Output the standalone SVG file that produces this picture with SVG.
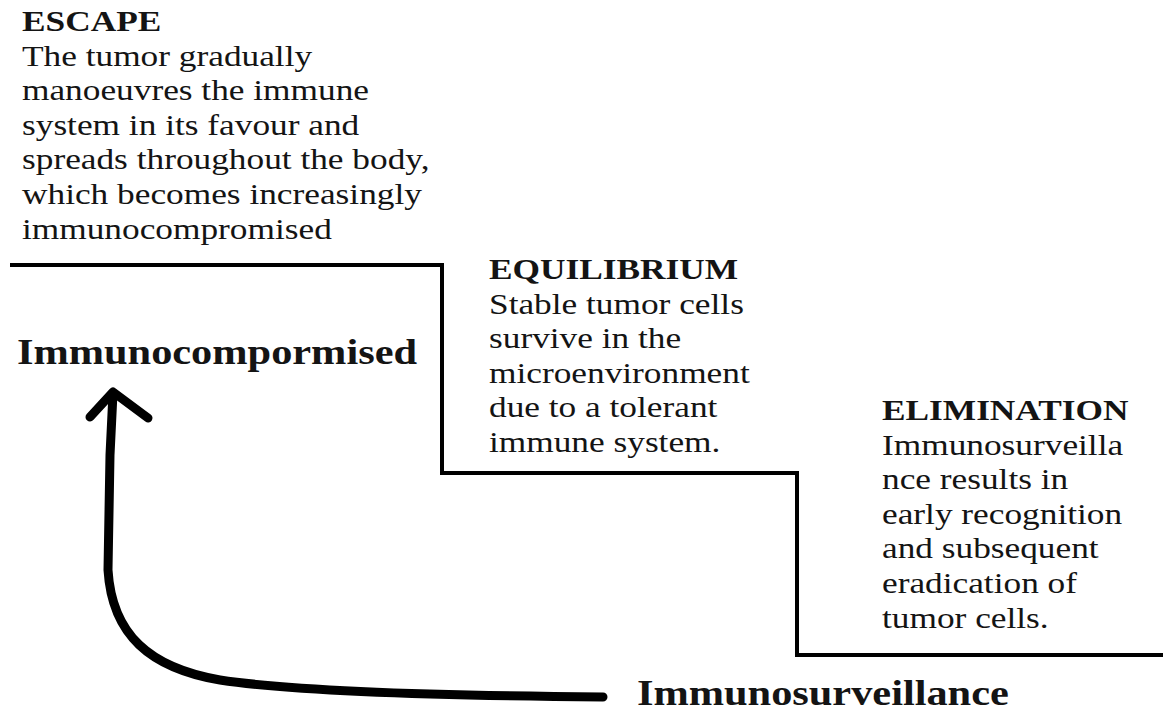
<svg xmlns="http://www.w3.org/2000/svg" width="1163" height="713" viewBox="0 0 1163 713">
<style>
  text { font-family: "Liberation Serif", "Times New Roman", serif; fill: #141414; }
  .b { font-size: 30px; }
  .h { font-size: 30px; font-weight: bold; }
  .lbl { font-size: 36px; font-weight: bold; }
  .step { fill: none; stroke: #000; stroke-width: 4; stroke-linejoin: miter; }
  .arrow { fill: none; stroke: #000; stroke-width: 9; stroke-linecap: round; stroke-linejoin: round; }
</style>
<rect width="1163" height="713" fill="#fff"/>
<g id="steps">
  <polyline class="step" points="10,265 442,265 442,473 797,473 797,655 1163,655"/>
</g>
<g id="escape" transform="translate(22 0) scale(1.177 1)">
  <text class="h" x="0" y="31">ESCAPE</text>
  <text class="b" x="0" y="65.6">The tumor gradually</text>
  <text class="b" x="0" y="100.2">manoeuvres the immune</text>
  <text class="b" x="0" y="134.8">system in its favour and</text>
  <text class="b" x="0" y="169.4">spreads throughout the body,</text>
  <text class="b" x="0" y="204">which becomes increasingly</text>
  <text class="b" x="0" y="238.6">immunocompromised</text>
</g>
<g id="equilibrium" transform="translate(489 0) scale(1.177 1)">
  <text class="h" x="0" y="279">EQUILIBRIUM</text>
  <text class="b" x="0" y="313.6">Stable tumor cells</text>
  <text class="b" x="0" y="348.2">survive in the</text>
  <text class="b" x="0" y="382.8">microenvironment</text>
  <text class="b" x="0" y="417.4">due to a tolerant</text>
  <text class="b" x="0" y="452">immune system.</text>
</g>
<g id="elimination" transform="translate(882 0) scale(1.177 1)">
  <text class="h" x="0" y="420">ELIMINATION</text>
  <text class="b" x="0" y="454.6">Immunosurveilla</text>
  <text class="b" x="0" y="489.2">nce results in</text>
  <text class="b" x="0" y="523.8">early recognition</text>
  <text class="b" x="0" y="558.4">and subsequent</text>
  <text class="b" x="0" y="593">eradication of</text>
  <text class="b" x="0" y="627.6">tumor cells.</text>
</g>
<g id="immunocompromised" transform="translate(17 0) scale(1.177 1)">
  <text class="lbl" x="0" y="364">Immunocompormised</text>
</g>
<g id="immunosurveillance" transform="translate(637 0) scale(1.177 1)">
  <text class="lbl" x="0" y="705">Immunosurveillance</text>
</g>
<g id="connectors">
  <path class="arrow" d="M 603 697 C 480 696 300 692 220 680 C 150 668 112 635 108 570 L 110 455 L 113 393"/>
  <polyline class="arrow" points="90,417 113,392 148,418"/>
</g>
</svg>
